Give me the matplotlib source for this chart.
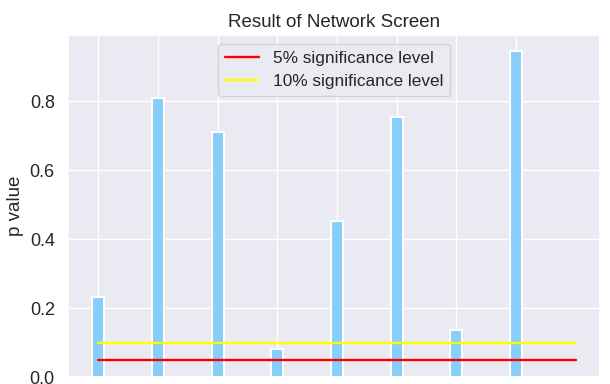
import matplotlib
matplotlib.use("Agg")
import matplotlib.pyplot as plt
import seaborn as sns
import numpy as np

# p values
screens = np.arange(8)
p_values = [0.232, 0.809, 0.710, 0.081, 0.452, 0.754, 0.136, 0.945]
level_x = np.arange(9)
sig_5 = [0.05] * 9
sig_10 = [0.10] * 9

sns.set_theme(style="darkgrid")
plt.rcParams['font.family'] = ['Liberation Sans', 'DejaVu Sans']

fig = plt.figure(figsize=(6.1, 3.84), dpi=100)
ax = fig.add_axes([68 / 610, 7 / 384, 532 / 610, 342 / 384])

ax.bar(screens, p_values, width=0.2, color="lightskyblue", linewidth=1.5)
ax.plot(level_x, sig_5, color="red", lw=1.7, label="5% significance level")
ax.plot(level_x, sig_10, color="yellow", lw=1.7, label="10% significance level")

ax.set_xticks(screens)
ax.set_xticklabels([])
ax.set_title("Result of Network Screen", fontsize=13.5)
ax.set_ylabel("p value", fontsize=13.5)
ax.tick_params(labelsize=13)
ax.legend(loc="upper center", fontsize=12.4)

fig.savefig("out.png", dpi=100)
